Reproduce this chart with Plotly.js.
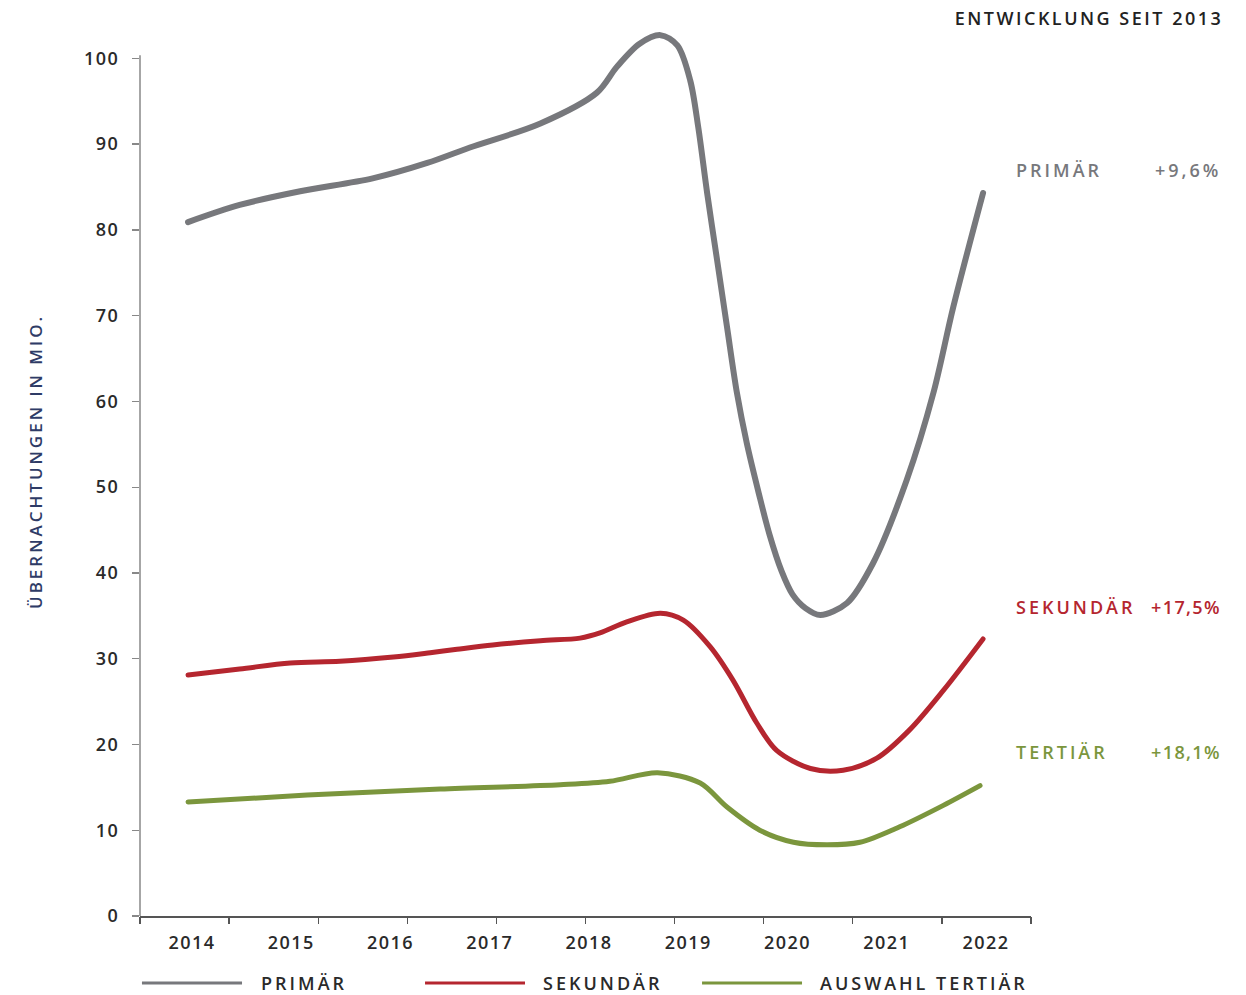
<!DOCTYPE html>
<html>
<head>
<meta charset="utf-8">
<script src="https://cdn.plot.ly/plotly-3.0.1.min.js"></script>
<style>
  html, body { margin: 0; padding: 0; background: #ffffff; }
  #chart { width: 1246px; height: 995px; }
  .annotation-text { letter-spacing: 3px; }
  .gtitle { letter-spacing: 2.5px; }
  .xtick text, .ytick text { letter-spacing: 1.5px; }
  .js-line { stroke-linecap: round; stroke-linejoin: round; }
</style>
</head>
<body>
<div id="chart"></div>
<script>
// Year labels along the bottom axis
const yearLabels = ['2014', '2015', '2016', '2017', '2018', '2019', '2020', '2021', '2022'];
const yearValues = [2014, 2015, 2016, 2017, 2018, 2019, 2020, 2021, 2022];
const yTicks = [0, 10, 20, 30, 40, 50, 60, 70, 80, 90, 100];

// Overnight stays in millions – primary region
const primaerX = [2013.96, 2014.48, 2015.09, 2015.82, 2016.37, 2016.80, 2017.51, 2018.08, 2018.28,
                  2018.51, 2018.72, 2018.89, 2019.02, 2019.10, 2019.19, 2019.29, 2019.39, 2019.49,
                  2019.59, 2019.71, 2019.82, 2019.94, 2020.05, 2020.18, 2020.33, 2020.60, 2020.86,
                  2021.20, 2021.47, 2021.67, 2021.97];
const primaerY = [80.9, 82.9, 84.5, 86.0, 87.8, 89.6, 92.4, 96.0, 99.0,
                  101.7, 102.7, 101.5, 97.4, 92.0, 84.3, 76.5, 68.7, 61.0,
                  55.1, 49.3, 44.4, 40.2, 37.5, 35.9, 35.1, 36.5, 41.1,
                  50.8, 61.0, 71.0, 84.3];

// Secondary region
const sekundaerX = [2013.96, 2014.48, 2014.99, 2015.49, 2016.03, 2016.40, 2016.67, 2017.03, 2017.51,
                    2017.91, 2018.11, 2018.38, 2018.72, 2018.95, 2019.22, 2019.45, 2019.69, 2019.89,
                    2020.23, 2020.56, 2020.90, 2021.23, 2021.57, 2021.97];
const sekundaerY = [28.1, 28.8, 29.5, 29.7, 30.2, 30.7, 31.1, 31.6, 32.1,
                    32.4, 33.0, 34.3, 35.3, 34.5, 31.4, 27.5, 22.5, 19.3,
                    17.2, 17.0, 18.4, 21.7, 26.3, 32.3];

// Selected tertiary regions
const tertiaerX = [2013.96, 2015.16, 2016.50, 2017.71, 2018.21, 2018.69, 2019.12, 2019.39, 2019.72,
                   2020.06, 2020.40, 2020.73, 2021.13, 2021.57, 2021.94];
const tertiaerY = [13.3, 14.1, 14.8, 15.3, 15.7, 16.7, 15.5, 12.7, 10.0,
                   8.6, 8.3, 8.6, 10.4, 12.9, 15.2];

// Growth since 2013
const seriesNames = ['PRIMÄR', 'SEKUNDÄR', 'TERTIÄR'];
const growthLabels = ['+9,6%', '+17,5%', '+18,1%'];
const growthSpacing = [3, 1.4, 1.4];
const legendNames = ['PRIMÄR', 'SEKUNDÄR', 'AUSWAHL TERTIÄR'];

const GRAY = '#77787c';
const RED = '#b5262f';
const GREEN = '#7b963d';
const FONT = 'Open Sans, Lato, sans-serif';

const X_MIN = 2013.476, X_MAX = 2022.453;
const Y_MAX = 104;          // headroom so the 2018/19 peak is not clipped
const Y_AXIS_TOP = 100.35;  // visible extent of the value axis line
// band separators on the x axis (10 equal bands)
const bandTicks = [];
for (let i = 0; i <= 10; i++) bandTicks.push(X_MIN + (X_MAX - X_MIN) * i / 10);

function lineTrace(x, y, color, width) {
  return {
    x: x, y: y, type: 'scatter', mode: 'lines',
    line: { color: color, width: width, shape: 'spline', smoothing: 0.9 },
    hoverinfo: 'skip', showlegend: false
  };
}

const traces = [
  lineTrace(primaerX, primaerY, GRAY, 6),
  lineTrace(sekundaerX, sekundaerY, RED, 5),
  lineTrace(tertiaerX, tertiaerY, GREEN, 5),
  { x: [], y: [], xaxis: 'x2', type: 'scatter', mode: 'lines', showlegend: false, hoverinfo: 'skip' }
];

const colors = [GRAY, RED, GREEN];
const labelY = [87.0, 36.0, 19.1];
const LABEL_SIZE = 18;

const annotations = [];
seriesNames.forEach((name, i) => {
  annotations.push({
    text: name, xref: 'paper', yref: 'y', x: 0.981, y: labelY[i],
    xanchor: 'left', yanchor: 'middle', showarrow: false,
    font: { family: FONT, size: LABEL_SIZE, color: colors[i], weight: 600 }
  });
  annotations.push({
    text: '<span style="letter-spacing:' + growthSpacing[i] + 'px">' + growthLabels[i] + '</span>',
    xref: 'paper', yref: 'y', x: 1.2155, y: labelY[i],
    xanchor: 'right', yanchor: 'middle', showarrow: false,
    font: { family: FONT, size: LABEL_SIZE, color: colors[i], weight: 600 }
  });
});

// axis title, rotated
annotations.push({
  text: 'ÜBERNACHTUNGEN IN MIO.', xref: 'paper', yref: 'paper',
  x: -0.1167, y: 0.509, xanchor: 'center', yanchor: 'middle',
  textangle: -90, showarrow: false,
  font: { family: FONT, size: 17, color: '#2e3b66', weight: 600 }
});

// bottom legend
const legendLineX = [[0.0022, 0.1145], [0.3199, 0.4321], [0.6308, 0.7430]];
const legendTextX = [0.1348, 0.4514, 0.7625];
const LEG_Y = -0.0752;
const shapes = [{
  type: 'line', xref: 'paper', yref: 'paper', x0: 0, x1: 0, y0: 0, y1: Y_AXIS_TOP / Y_MAX,
  line: { color: '#888888', width: 1.5 }
}];
legendNames.forEach((name, i) => {
  shapes.push({
    type: 'line', xref: 'paper', yref: 'paper',
    x0: legendLineX[i][0], x1: legendLineX[i][1], y0: LEG_Y, y1: LEG_Y,
    line: { color: colors[i], width: 3 }
  });
  annotations.push({
    text: name, xref: 'paper', yref: 'paper', x: legendTextX[i], y: LEG_Y,
    xanchor: 'left', yanchor: 'middle', showarrow: false, borderpad: 0,
    font: { family: FONT, size: LABEL_SIZE, color: '#2a2a2a', weight: 600 }
  });
});

const layout = {
  width: 1246, height: 995,
  margin: { l: 140, r: 215, t: 24, b: 79 },
  paper_bgcolor: '#ffffff', plot_bgcolor: '#ffffff',
  showlegend: false,
  title: {
    text: 'ENTWICKLUNG SEIT 2013',
    xref: 'container', yref: 'container',
    x: 0.9818, xanchor: 'right', y: 0.981, yanchor: 'middle',
    font: { family: FONT, size: 18, color: '#222222', weight: 600 }
  },
  xaxis: {
    range: [X_MIN, X_MAX], tickmode: 'array', tickvals: yearValues, ticktext: yearLabels,
    ticks: '', ticklabelstandoff: 10,
    showline: true, linecolor: '#555555', linewidth: 1.5,
    showgrid: false, zeroline: false, fixedrange: true,
    tickfont: { family: FONT, size: 18, color: '#2a2a2a', weight: 600 }
  },
  xaxis2: {
    range: [X_MIN, X_MAX], overlaying: 'x', anchor: 'y', side: 'bottom',
    tickmode: 'array', tickvals: bandTicks, ticks: 'outside', ticklen: 7,
    tickcolor: '#555555', tickwidth: 1.3, showticklabels: false,
    showline: false, showgrid: false, zeroline: false, fixedrange: true
  },
  yaxis: {
    range: [0, Y_MAX], tickmode: 'array', tickvals: yTicks,
    ticks: 'outside', ticklen: 7, tickcolor: '#888888', tickwidth: 1.3,
    ticklabelstandoff: 9,
    showline: false,
    showgrid: false, zeroline: false, fixedrange: true,
    tickfont: { family: FONT, size: 18, color: '#2a2a2a', weight: 600 }
  },
  annotations: annotations,
  shapes: shapes
};

Plotly.newPlot('chart', traces, layout, { displayModeBar: false, staticPlot: true });
</script>
</body>
</html>
